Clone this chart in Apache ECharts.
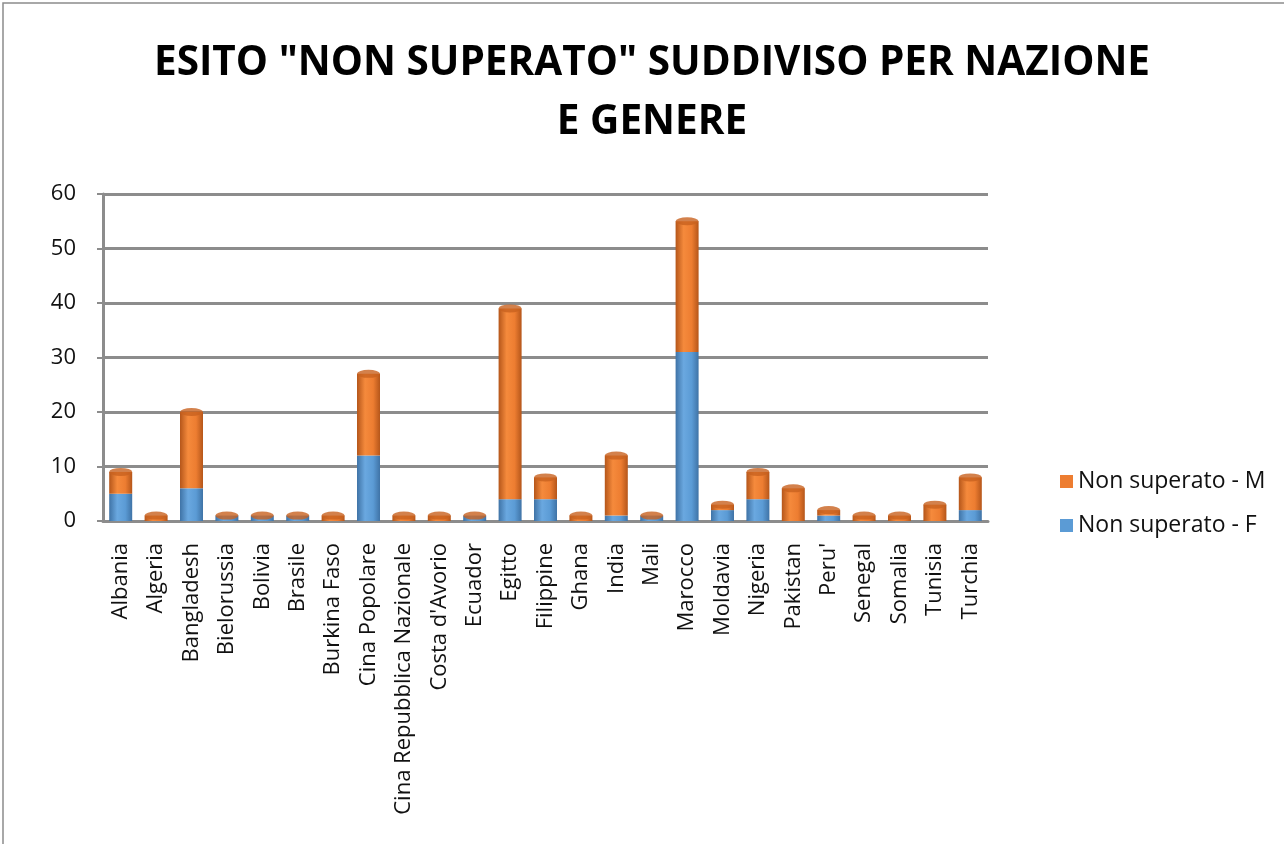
<!DOCTYPE html>
<html>
<head>
<meta charset="utf-8">
<script src="https://cdn.jsdelivr.net/npm/echarts@6/dist/echarts.min.js"></script>
<style>
  html, body { margin: 0; padding: 0; background: #fff; }
  #chart { width: 1284px; height: 844px; }
</style>
</head>
<body>
<div id="chart"></div>
<script>
// Countries on the category axis
const nazioni = [
  'Albania', 'Algeria', 'Bangladesh', 'Bielorussia', 'Bolivia', 'Brasile',
  'Burkina Faso', 'Cina Popolare', 'Cina Repubblica Nazionale', "Costa d'Avorio",
  'Ecuador', 'Egitto', 'Filippine', 'Ghana', 'India', 'Mali', 'Marocco',
  'Moldavia', 'Nigeria', 'Pakistan', "Peru'", 'Senegal', 'Somalia', 'Tunisia', 'Turchia'
];
// "Non superato" counts, women
const nonSuperatoF = [5, 0, 6, 1, 1, 1, 0, 12, 0, 0, 1, 4, 4, 0, 1, 1, 31, 2, 4, 0, 1, 0, 0, 0, 2];
// "Non superato" counts, men
const nonSuperatoM = [4, 1, 14, 0, 0, 0, 1, 15, 1, 1, 0, 35, 4, 1, 11, 0, 24, 1, 5, 6, 1, 1, 1, 3, 6];
// Value axis ticks
const yTicks = [0, 10, 20, 30, 40, 50, 60];
// Title lines
const titolo = ['ESITO "NON SUPERATO" SUDDIVISO PER NAZIONE', 'E GENERE'];

const totali = nonSuperatoF.map((f, i) => f + nonSuperatoM[i]);

// Horizontal gradients give the bars a rounded, cylinder-like shading
function cylinder(dark, mid, light) {
  return new echarts.graphic.LinearGradient(0, 0, 1, 0, [
    { offset: 0, color: dark },
    { offset: 0.35, color: light },
    { offset: 0.7, color: mid },
    { offset: 1, color: dark }
  ]);
}
const blu = cylinder('#3f73a6', '#5b9bd5', '#6aa8e0');
const arancio = cylinder('#b5561a', '#ed7d31', '#f58a3c');

const fontTesto = "'Open Sans', 'Liberation Sans', sans-serif";

// Condensed bold title lines, drawn as text elements
function rigaTitolo(testo, y) {
  return {
    type: 'text',
    x: 652,
    y: y,
    scaleX: 0.965,
    style: {
      text: testo,
      font: "bold 42px 'Open Sans', sans-serif",
      fill: '#000',
      textAlign: 'center',
      textVerticalAlign: 'middle'
    },
    z: 10
  };
}

const chart = echarts.init(document.getElementById('chart'), null, { renderer: 'canvas' });

chart.setOption({
  animation: false,
  backgroundColor: '#ffffff',
  graphic: [
    {
      type: 'rect',
      shape: { x: 3, y: 3, width: 1400, height: 1000 },
      style: { fill: 'none', stroke: '#8c8c8c', lineWidth: 1.5 },
      z: 0
    },
    rigaTitolo(titolo[0], 63),
    rigaTitolo(titolo[1], 122)
  ],
  legend: {
    orient: 'vertical',
    left: 1055,
    top: 465,
    itemWidth: 13,
    itemHeight: 13,
    itemGap: 21,
    icon: 'rect',
    data: [
      { name: 'Non superato - M', itemStyle: { color: '#ed7d31' } },
      { name: 'Non superato - F', itemStyle: { color: '#5b9bd5' } }
    ],
    textStyle: {
      fontFamily: fontTesto,
      fontSize: 23,
      color: '#111'
    }
  },
  grid: { left: 103, right: 296, top: 194, bottom: 323, containLabel: false },
  xAxis: {
    type: 'category',
    data: nazioni,
    axisTick: { show: false },
    axisLine: { show: true, lineStyle: { color: '#8c8c8c', width: 3 } },
    axisLabel: {
      rotate: 90,
      interval: 0,
      margin: 22,
      fontFamily: fontTesto,
      fontSize: 22,
      color: '#111'
    }
  },
  yAxis: {
    type: 'value',
    min: yTicks[0],
    max: yTicks[yTicks.length - 1],
    interval: 10,
    axisLine: { show: true, lineStyle: { color: '#8c8c8c', width: 3 } },
    axisTick: { show: true, length: 6, lineStyle: { color: '#8c8c8c', width: 2 } },
    splitLine: { show: true, lineStyle: { color: '#8c8c8c', width: 3 } },
    axisLabel: {
      margin: 27,
      fontFamily: fontTesto,
      fontSize: 22,
      color: '#111'
    }
  },
  series: [
    {
      name: 'Non superato - F',
      type: 'bar',
      stack: 'esito',
      barWidth: 23,
      data: nonSuperatoF,
      itemStyle: { color: blu }
    },
    {
      name: 'Non superato - M',
      type: 'bar',
      stack: 'esito',
      barWidth: 23,
      data: nonSuperatoM,
      itemStyle: { color: arancio }
    },
    {
      // Elliptical caps on top of each stacked column
      name: 'cap',
      type: 'scatter',
      data: totali,
      symbol: 'circle',
      symbolSize: [23, 8],
      itemStyle: { color: '#c8621f' },
      silent: true,
      z: 3,
      legendHoverLink: false,
      tooltip: { show: false }
    }
  ]
});
</script>
</body>
</html>
